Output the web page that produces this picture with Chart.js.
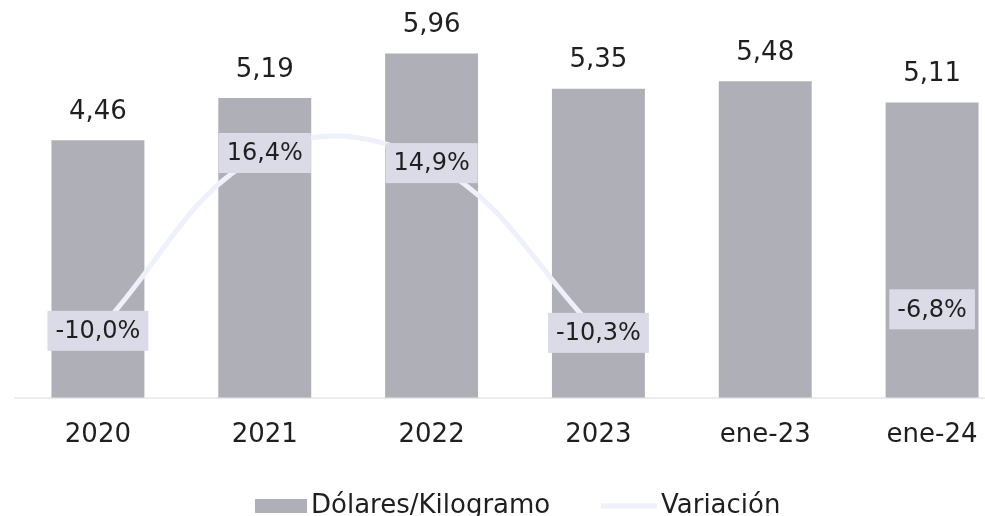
<!DOCTYPE html>
<html>
<head>
<meta charset="utf-8">
<script src="https://cdn.jsdelivr.net/npm/chart.js@4/dist/chart.umd.min.js"></script>
<style>
html,body{margin:0;padding:0;background:#fff;overflow:hidden;width:985px;height:516px;}
#wrap{position:relative;width:1040px;height:516px;}
</style>
</head>
<body>
<div id="wrap"><canvas id="c" width="1040" height="516"></canvas></div>
<script>
const categories = ['2020', '2021', '2022', '2023', 'ene-23', 'ene-24'];
const dolaresKg = [4.46, 5.19, 5.96, 5.35, 5.48, 5.11];
const variacion = [-10.0, 16.4, 14.9, -10.3, null, -6.8];
const seriesNames = ['Dólares/Kilogramo', 'Variación'];

const FONT = '"DejaVu Sans", sans-serif';
const TEXT = '#1f1f1f';
const BAR = '#afafb7';
const LINE = '#eef0fb';
const BOX = '#dadbe6';

function fmt(v, d) { return v.toFixed(d).replace('.', ','); }

const labelsPlugin = {
  id: 'labels',
  afterDatasetsDraw(chart) {
    const ctx = chart.ctx;
    ctx.save();
    ctx.textAlign = 'center';
    ctx.textBaseline = 'middle';
    const barMeta = chart.getDatasetMeta(0);
    ctx.font = '26px ' + FONT;
    ctx.fillStyle = TEXT;
    barMeta.data.forEach((el, i) => {
      ctx.fillText(fmt(dolaresKg[i], 2), el.x, el.y - 28);
    });
    const lineMeta = chart.getDatasetMeta(1);
    ctx.font = '24px ' + FONT;
    lineMeta.data.forEach((el, i) => {
      const v = variacion[i];
      if (v === null || v === undefined) return;
      const t = fmt(v, 1) + '%';
      const w = ctx.measureText(t).width + 16;
      const h = 40;
      ctx.fillStyle = BOX;
      ctx.fillRect(el.x - w / 2, el.y - h / 2, w, h);
      ctx.fillStyle = TEXT;
      ctx.fillText(t, el.x, el.y + 1);
    });
    ctx.restore();
  },
  afterDraw(chart) {
    const ctx = chart.ctx;
    ctx.save();
    ctx.font = '26px ' + FONT;
    ctx.textBaseline = 'middle';
    ctx.textAlign = 'left';
    const y = 506;
    ctx.fillStyle = BAR;
    ctx.fillRect(255, y - 7, 52, 14);
    ctx.fillStyle = TEXT;
    ctx.fillText(seriesNames[0], 311, y);
    ctx.strokeStyle = LINE;
    ctx.lineWidth = 5;
    ctx.beginPath();
    ctx.moveTo(601, y);
    ctx.lineTo(657, y);
    ctx.stroke();
    ctx.fillText(seriesNames[1], 661, y);
    ctx.restore();
  }
};

new Chart(document.getElementById('c'), {
  data: {
    labels: categories,
    datasets: [
      {
        type: 'bar',
        label: seriesNames[0],
        data: dolaresKg,
        backgroundColor: BAR,
        borderWidth: 0,
        categoryPercentage: 1,
        barPercentage: 0.557,
        yAxisID: 'y',
        order: 2
      },
      {
        type: 'line',
        label: seriesNames[1],
        data: variacion,
        borderColor: LINE,
        backgroundColor: LINE,
        borderWidth: 5,
        tension: 0.4,
        pointRadius: 0,
        spanGaps: false,
        yAxisID: 'y2',
        order: 1
      }
    ]
  },
  options: {
    responsive: false,
    animation: false,
    events: [],
    layout: { padding: { left: 14.5, right: 24.5, top: 10, bottom: 43 } },
    plugins: { legend: { display: false }, tooltip: { enabled: false } },
    scales: {
      x: {
        grid: { display: false, drawTicks: false },
        border: { display: true, color: '#ececec', width: 2 },
        ticks: { padding: 22, color: TEXT, font: { family: FONT, size: 26 } }
      },
      y: { display: false, min: 0, max: 6.713 },
      y2: { display: false, min: -19.94, max: 37.63 }
    }
  },
  plugins: [labelsPlugin]
});
</script>
</body>
</html>
